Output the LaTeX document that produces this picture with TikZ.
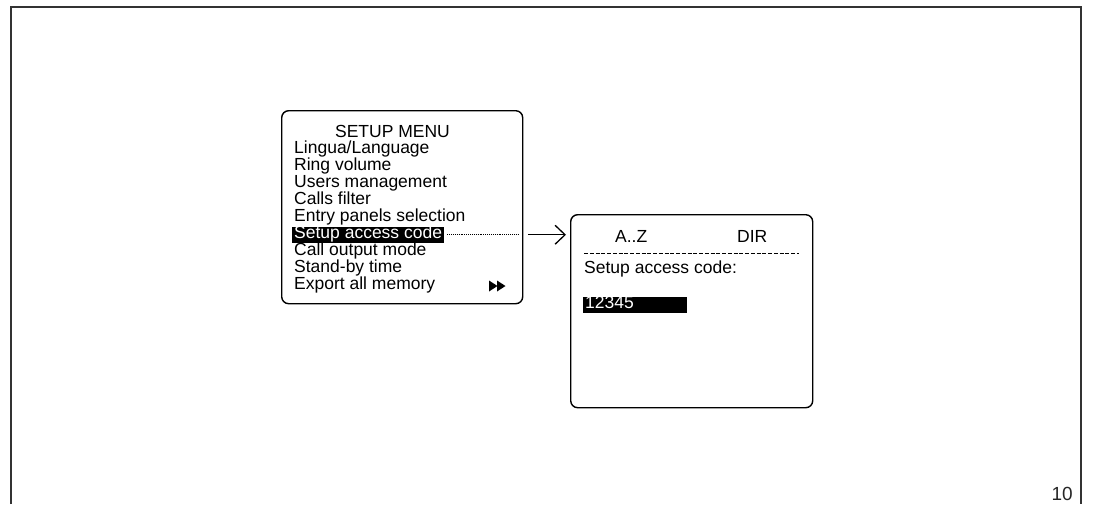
\documentclass[tikz,border=0pt]{standalone}
\usepackage{fontspec}
\setmainfont{Liberation Sans}
\usetikzlibrary{arrows.meta}
\begin{document}
\begin{tikzpicture}[x=1pt,y=-1pt,
  frameline/.style={draw=black!80, line width=1.6pt},
  lcd/.style={draw, line width=1.4pt, rounded corners=7pt, inner sep=0pt},
  item/.style={anchor=base west, inner sep=0pt, font=\fontsize{17.5}{17}\selectfont},
  hilite/.style={item, fill=black, text=white, inner xsep=2pt, text height=11.5pt, text depth=5pt},
  leader/.style={line width=0.6pt, dash pattern=on 0.8pt off 1.1pt},
  goto/.style={line width=1.3pt, -{Straight Barb[length=10pt, width=19pt, line width=1.3pt]}},
  rule/.style={line width=0.9pt, dash pattern=on 4.2pt off 1.55pt}]
\useasboundingbox (0,0) rectangle (1093,504);

% page frame, open at the bottom
\draw[frameline] (11,504) -- (11,7) -- (1081,7) -- (1081,504);

% setup menu screen
\node[lcd, minimum width=241pt, minimum height=193pt, anchor=north west] (menu) at (281,110) {};
\node[item, anchor=base] (title) at (392.5,137) {SETUP MENU};
\node[item] (m1) at (294,153) {Lingua/Language};
\node[item] (m2) at (294,170) {Ring volume};
\node[item] (m3) at (294,187) {Users management};
\node[item] (m4) at (294,204) {Calls filter};
\node[item] (m5) at (294,221) {Entry panels selection};
\node[hilite] (sel) at (292,238) {Setup access code};
\node[item] (m7) at (294,255) {Call output mode};
\node[item] (m8) at (294,272) {Stand-by time};
\node[item] (m9) at (294,289) {Export all memory};
\fill (489,280.5) -- (497.5,286) -- (489,291.5) -- cycle;
\fill (497,280.5) -- (505.5,286) -- (497,291.5) -- cycle;

% access code screen
\node[lcd, minimum width=242pt, minimum height=193pt, anchor=north west] (scr) at (570,214) {};
\node[item] (az) at (615,242) {A..Z};
\node[item] (dir) at (737,242) {DIR};
\coordinate (ruleL) at (584,253);
\coordinate (ruleR) at (799,253);
\draw[rule] (ruleL) -- (ruleR);
\node[item] (prompt) at (584,273) {Setup access code:};
\node[hilite, text width=100pt, align=left] (code) at (583,308) {12345};

% connector from the selected entry to the next screen
\coordinate (menuR) at (menu.east |- sel.east);
\coordinate (scrL) at (scr.west |- sel.east);
\draw[leader] ([xshift=3pt]sel.east) -- ([xshift=-4pt]menuR);
\draw[goto] ([xshift=5pt]menuR) -- ([xshift=-4pt]scrL);

% page number
\node[item, anchor=base east, text=black!85, font=\fontsize{19}{19}\selectfont] (page) at (1073,500) {10};
\end{tikzpicture}
\end{document}
